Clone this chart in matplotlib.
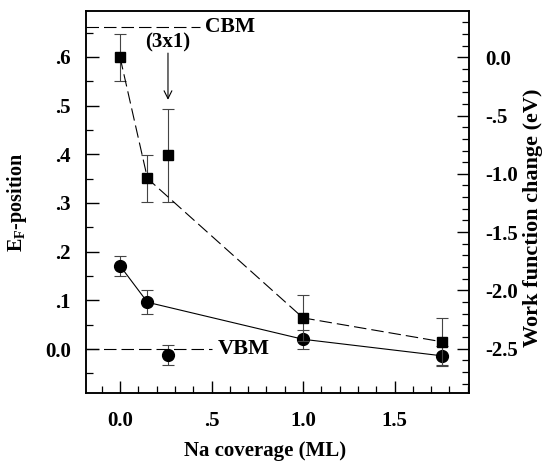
import matplotlib
matplotlib.use("Agg")
import matplotlib.pyplot as plt
import numpy as np
from matplotlib.ticker import MultipleLocator, FuncFormatter

plt.rcParams['font.family'] = ['Liberation Serif', 'DejaVu Serif']
plt.rcParams['font.weight'] = 'bold'
plt.rcParams['mathtext.fontset'] = 'custom'
plt.rcParams['mathtext.rm'] = 'Liberation Serif:bold'
plt.rcParams['mathtext.it'] = 'Liberation Serif:bold'
plt.rcParams['mathtext.bf'] = 'Liberation Serif:bold'
plt.rcParams['lines.scale_dashes'] = False

# Data
coverage = [0.0, 0.15, 0.26, 1.0, 1.76]
ef_pos = [0.171, 0.096, -0.012, 0.020, -0.014]
ef_err = [0.02, 0.025, 0.02, 0.02, 0.02]
wf_change = [0.0, -1.04, -0.84, -2.235, -2.44]
wf_err = [0.2, 0.2, 0.4, 0.2, 0.2]
line_idx = [0, 1, 3, 4]  # points joined by lines (the (3x1) point is isolated)

cbm_level = 0.662
vbm_level = 0.0

xlim = (-0.186, 1.907)
ylim_left = (-0.0904, 0.6945)
ylim_right = (-2.879, 0.396)

fig = plt.figure(figsize=(5.48, 4.63), dpi=100)
ax = fig.add_axes([86/548, 1-393/463, 383/548, 382/463])
ax2 = ax.twinx()

ax.set_xlim(*xlim)
ax.set_ylim(*ylim_left)
ax2.set_ylim(*ylim_right)

ecol = '#444444'
dash = (9, 3.6)
# circles: E_F position (left axis)
cx = [coverage[i] for i in line_idx]
cy = [ef_pos[i] for i in line_idx]
ax.plot(cx, cy, color='black', lw=0.8, zorder=3)
ax.errorbar(coverage, ef_pos, yerr=ef_err, fmt='none', ecolor=ecol,
            elinewidth=0.8, capsize=4, capthick=0.8, zorder=2)
ax.plot(coverage, ef_pos, 'o', color='black', ms=8.5, zorder=4)

# squares: work function change (right axis)
sx = [coverage[i] for i in line_idx]
sy = [wf_change[i] for i in line_idx]
ax2.plot(sx, sy, color='black', lw=0.8, dashes=dash, zorder=3)
ax2.errorbar(coverage, wf_change, yerr=wf_err, fmt='none', ecolor=ecol,
             elinewidth=0.8, capsize=4, capthick=0.8, zorder=2)
ax2.plot(coverage, wf_change, 's', color='black', ms=7.5, zorder=4)

# CBM / VBM reference lines
ax.plot([xlim[0], 0.437], [cbm_level, cbm_level], color='black', lw=0.8, dashes=dash)
ax.text(0.462, cbm_level, 'CBM', fontsize=15.5, fontweight='bold', va='center', ha='left')
ax.plot([xlim[0], 0.505], [vbm_level, vbm_level], color='black', lw=0.8, dashes=dash, zorder=1)
ax.text(0.532, vbm_level, 'VBM', fontsize=16, fontweight='bold', va='center', ha='left')

# (3x1) annotation
ax.annotate('', xy=(0.262, 0.512), xytext=(0.262, 0.608),
            arrowprops=dict(arrowstyle='->', lw=0.8, color='black',
                            mutation_scale=14, shrinkA=0, shrinkB=0))
ax.text(0.262, 0.630, '(3x1)', fontsize=15, fontweight='bold', ha='center', va='center')

# ticks
ax.xaxis.set_major_locator(MultipleLocator(0.5))
ax.xaxis.set_minor_locator(MultipleLocator(0.1))
ax.yaxis.set_major_locator(MultipleLocator(0.1))
ax.yaxis.set_minor_locator(MultipleLocator(0.05))
ax2.yaxis.set_major_locator(MultipleLocator(0.5))
ax2.yaxis.set_minor_locator(MultipleLocator(0.1))

def fmt_short(v, pos):
    if abs(v) < 1e-9:
        return '0.0'
    s = '%.1f' % v
    if s.startswith('0.'):
        s = s[1:]
    elif s.startswith('-0.'):
        s = '-' + s[2:]
    return s

ax.xaxis.set_major_formatter(FuncFormatter(fmt_short))
ax.yaxis.set_major_formatter(FuncFormatter(fmt_short))
ax2.yaxis.set_major_formatter(FuncFormatter(fmt_short))

ax.tick_params(axis='x', which='both', direction='in', top=False, bottom=True)
ax.tick_params(axis='y', which='both', direction='in', left=True, right=False)
ax.tick_params(which='major', length=9, width=1.0, labelsize=15, pad=11)
ax.tick_params(axis='x', which='major', pad=13)
ax.tick_params(which='minor', length=5, width=0.9)
ax2.tick_params(axis='y', which='both', direction='in', right=True, left=False)
ax2.tick_params(which='major', length=9, width=1.0, labelsize=15, pad=12)
ax2.tick_params(which='minor', length=5, width=0.9)
for lab in ax.get_xticklabels() + ax.get_yticklabels() + ax2.get_yticklabels():
    lab.set_fontweight('bold')

for a in (ax, ax2):
    for sp in a.spines.values():
        sp.set_linewidth(1.1)

ax.set_xlabel('Na coverage (ML)', fontsize=15, fontweight='bold')
ax.xaxis.set_label_coords(0.467, -0.153)
ax.xaxis.label.set_va('center')
ax.set_ylabel(r'$\mathrm{E_F}$-position', fontsize=14.5, fontweight='bold')
ax.yaxis.set_label_coords(-0.18, 0.5)
ax.yaxis.label.set_va('center')
ax2.set_ylabel('Work function change (eV)', fontsize=16, fontweight='bold', rotation=90)
ax2.yaxis.set_label_coords(1.168, 0.46)
ax2.yaxis.label.set_va('center')

fig.savefig('out.png', dpi=100)
